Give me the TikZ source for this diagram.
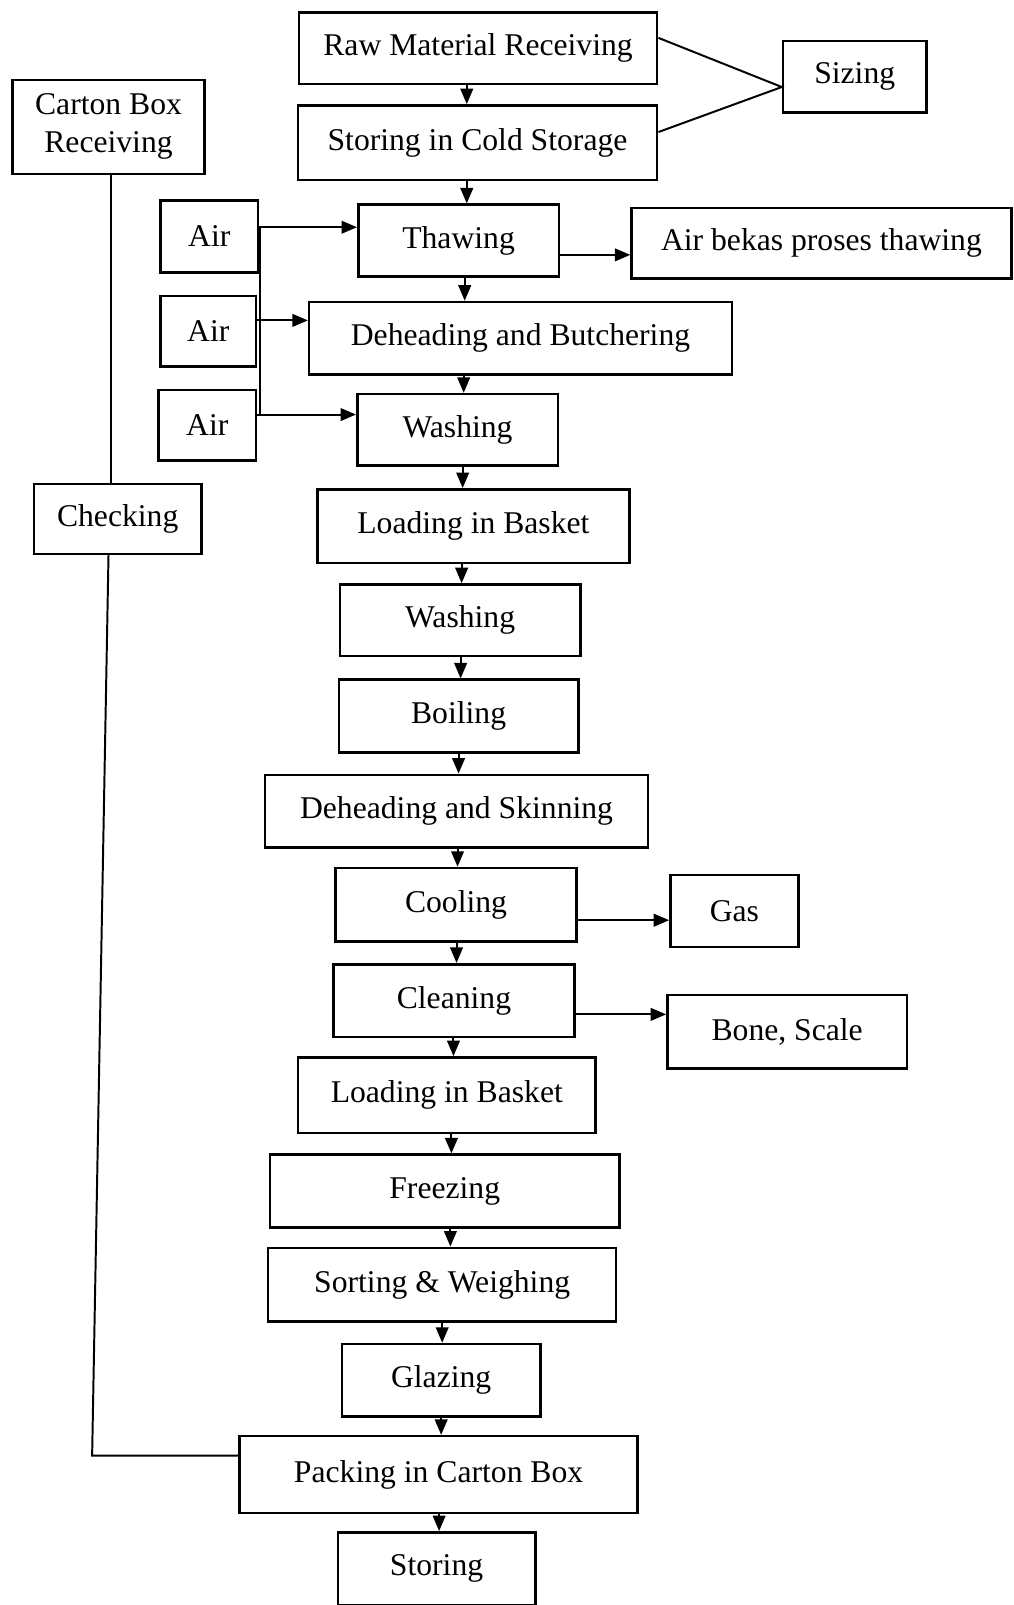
\documentclass[tikz,border=0pt]{standalone}
\usepackage{fontspec}
\setmainfont{Liberation Serif}
\usetikzlibrary{arrows.meta,calc,positioning}
\newlength\pxu
\setlength\pxu{0.02558cm}

\begin{document}
\begin{tikzpicture}[x=0.02558cm, y=-0.02558cm,
    pbox/.style 2 args={draw, line width=1.8pt, minimum width=#1*\pxu, minimum height=#2*\pxu, inner sep=0pt, align=center, font=\fontsize{22.5}{27}\selectfont},
    flow/.style={line width=1.4pt},
    arr/.style={flow, -{Triangle[length=11pt,width=9pt]}}]
            \useasboundingbox (0,0) rectangle (990,1568);

            \node[pbox={350}{70}] at (467, 47) (raw) {Raw Material Receiving};
            \node[pbox={140}{70}] at (835, 75) (size) {Sizing};
            \node[pbox={351}{73}] at (466.5, 139.5) (cold) {Storing in Cold Storage};
            \node[pbox={188}{92}] at (106, 124) (carton) {Carton Box\\Receiving};
            \node[pbox={95}{70}] at (204.5, 231) (air1) {Air};
            \node[pbox={196}{70}] at (448, 235) (thaw) {Thawing};
            \node[pbox={371}{69}] at (802.5, 237.5) (bekas) {Air bekas proses thawing};
            \node[pbox={93}{69}] at (203.5, 323.5) (air2) {Air};
            \node[pbox={413}{71}] at (508.5, 330.5) (dehb) {Deheading and Butchering};
            \node[pbox={95}{69}] at (202.5, 415.5) (air3) {Air};
            \node[pbox={196}{70}] at (447, 420) (wash1) {Washing};
            \node[pbox={164}{68}] at (115, 507) (check) {Checking};
            \node[pbox={305}{72}] at (462.5, 514) (load1) {Loading in Basket};
            \node[pbox={235}{70}] at (449.5, 606) (wash2) {Washing};
            \node[pbox={234}{71}] at (448, 699.5) (boil) {Boiling};
            \node[pbox={374}{71}] at (446, 792.5) (dehs) {Deheading and Skinning};
            \node[pbox={235}{72}] at (445.5, 884) (cool) {Cooling};
            \node[pbox={125}{70}] at (717.5, 890) (gas) {Gas};
            \node[pbox={235}{71}] at (443.5, 977.5) (clean) {Cleaning};
            \node[pbox={234}{72}] at (769, 1008) (bone) {Bone, Scale};
            \node[pbox={291}{74}] at (436.5, 1070) (load2) {Loading in Basket};
            \node[pbox={341}{71}] at (434.5, 1163.5) (freeze) {Freezing};
            \node[pbox={340}{72}] at (432, 1255) (sort) {Sorting \& Weighing};
            \node[pbox={194}{71}] at (431, 1348.5) (glaze) {Glazing};
            \node[pbox={389}{75}] at (428.5, 1440.5) (pack) {Packing in Carton Box};
            \node[pbox={193}{71}] at (426.5, 1532.5) (store) {Storing};

            \foreach \a/\b/\x in {raw/cold/456, cold/thaw/456, thaw/dehb/454, dehb/wash1/453,
                wash1/load1/452, load1/wash2/451, wash2/boil/450, boil/dehs/448, dehs/cool/447,
                cool/clean/446, clean/load2/443, load2/freeze/441, freeze/sort/440,
                sort/glaze/432, glaze/pack/431, pack/store/429}
                \draw[arr] (\a.south -| \x,0) -- (\b.north -| \x,0);

            \coordinate (sz) at (size.west |- 0,85);
            \draw[flow] (raw.east |- 0,37) -- (sz) -- (cold.east |- 0,129);

            \draw[arr] (thaw.east |- 0,249) -- (bekas.west |- 0,249);
            \draw[arr] (cool.east |- 0,899) -- (gas.west |- 0,899);
            \draw[arr] (clean.east |- 0,991) -- (bone.west |- 0,991);

            \coordinate (jt) at (254,222);
            \coordinate (jb) at (254,405);
            \draw[flow] (jt) -- (jb);
            \draw[arr] (air1.east |- jt) -- (thaw.west |- jt);
            \draw[arr] (air2.east |- 0,313) -- (dehb.west |- 0,313);
            \draw[arr] (air3.east |- jb) -- (wash1.west |- jb);

            \coordinate (bend) at (90,1422);
            \draw[flow] (carton.south -| 108,0) -- (check.north -| 108,0);
            \draw[flow] (check.south -| 106,0) -- (bend) -- (pack.west |- bend);
        \end{tikzpicture}
\end{document}
